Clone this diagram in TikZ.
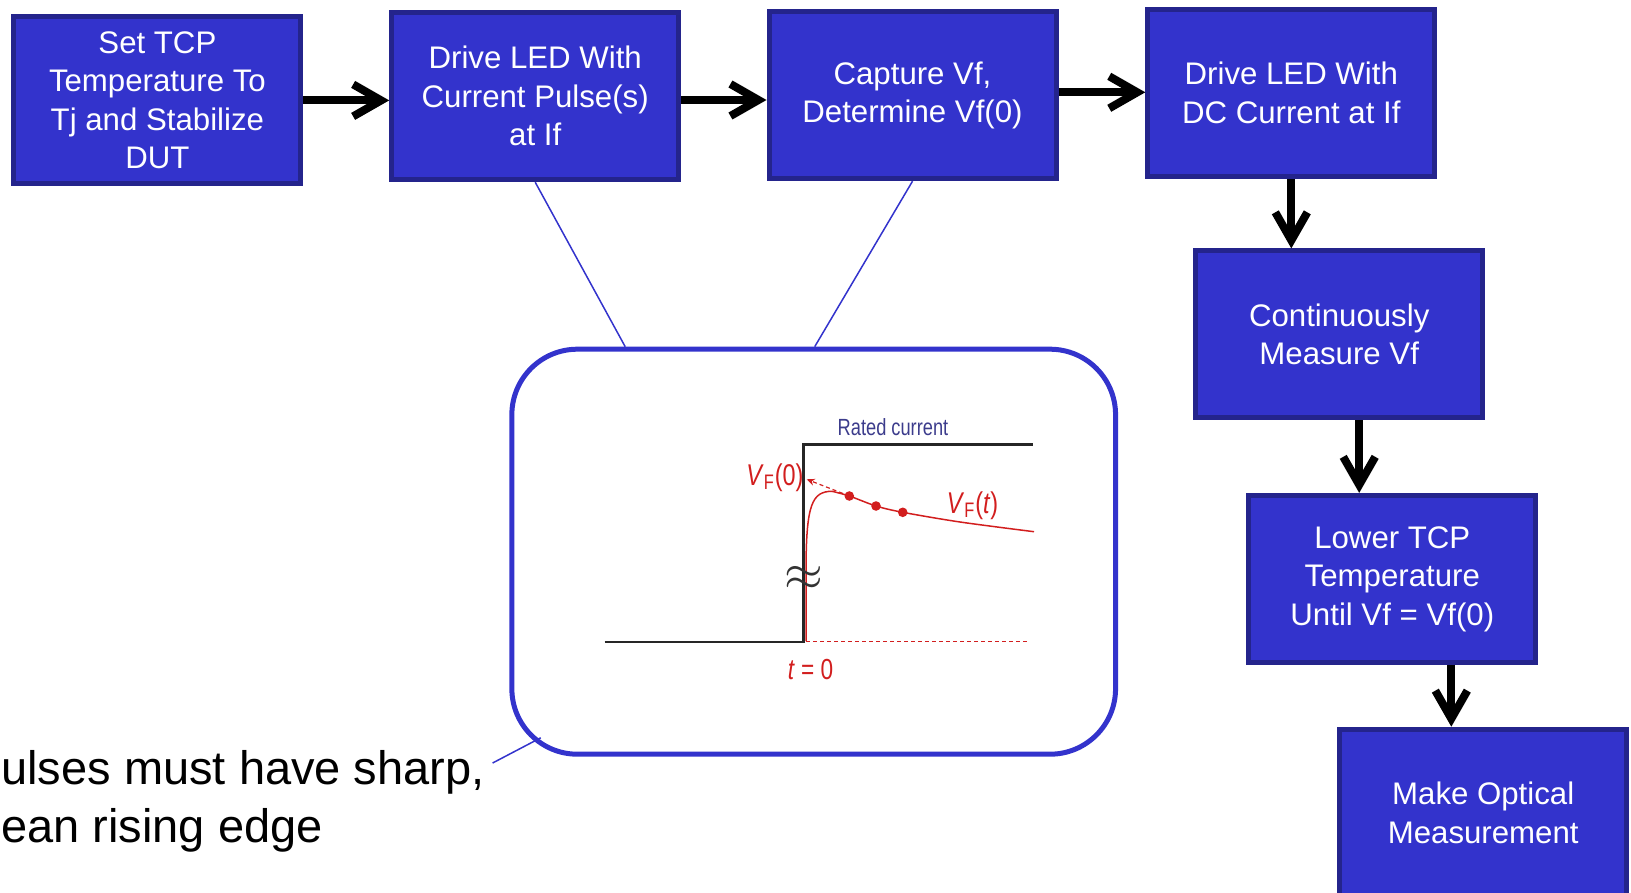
\documentclass[tikz,border=0pt]{standalone}
\usepackage{fontspec}
\setmainfont{Liberation Sans}
\newfontfamily\narrowfont[FakeStretch=0.78]{Liberation Sans}
\usetikzlibrary{arrows.meta, positioning}
\usepackage{xcolor}
\definecolor{boxfill}{RGB}{51,51,204}
\definecolor{boxedge}{RGB}{36,36,140}
\definecolor{insetblue}{RGB}{51,51,204}
\definecolor{curvered}{RGB}{210,30,30}
\definecolor{ratedblue}{RGB}{60,60,140}

\tikzset{
  stepbox/.style={draw=boxedge, fill=boxfill, line width=2.5pt, minimum width=143.5pt,
    minimum height=83.5pt, inner sep=0pt, text=white, align=center,
    font=\fontsize{15.6}{19.25}\selectfont},
  flow/.style={line width=4pt, -{Straight Barb[length=14pt, width=16pt]}},
  callout/.style={draw=insetblue, line width=0.75pt},
  insetbox/.style={draw=insetblue, line width=2.5pt, rounded corners=32.75pt,
    minimum width=301.85pt, minimum height=202.5pt},
  note/.style={anchor=base west, inner sep=0pt, align=left,
    font=\fontsize{23.5}{29}\selectfont},
  stepline/.style={draw=black!85, line width=1.3pt},
  vfline/.style={draw=curvered, line width=0.75pt},
  chartlabel/.style={inner sep=0pt, anchor=base, text=curvered, font=\narrowfont\fontsize{15}{15}\selectfont},
}

\begin{document}
\begin{tikzpicture}[x=0.5pt, y=-0.5pt]
  \useasboundingbox (0,0) rectangle (1631,893);
  \clip (0,0) rectangle (1631,893);

  \node[stepbox] (b1) at (157.4,100.4) {Set TCP\\Temperature To\\Tj and Stabilize\\DUT};
  \node[stepbox] (b2) at (535.2,96.2) {Drive LED With\\Current Pulse(s)\\at If};
  \node[stepbox] (b3) at (912.5,95.2) {Capture Vf,\\Determine Vf(0)};
  \node[stepbox] (b4) at (1291.3,93.1) {Drive LED With\\DC Current at If};
  \node[stepbox] (b5) at (1339.2,334.4) {Continuously\\Measure Vf};
  \node[stepbox] (b6) at (1392.3,578.9) {Lower TCP\\Temperature\\Until Vf = Vf(0)};
  \node[stepbox] (b7) at (1483.2,812.7) {Make Optical\\Measurement};

  \foreach \a/\b/\s in {b1/b2/0, b2/b3/-1.9, b3/b4/1.45} {
    \draw[flow] ([yshift=\s pt]\a.east) -- ([yshift=\s pt]\a.east -| \b.west);
  }
  \foreach \a/\b/\s in {b4/b5/0, b5/b6/10, b6/b7/29.5} {
    \draw[flow] ([xshift=\s pt]\a.south) -- ([xshift=\s pt]\a.south |- \b.north);
  }

  \node[insetbox] (inset) at (813.7,551.7) {};
  \coordinate (c2) at (625.2,346.7);
  \coordinate (c3) at (814.7,346.7);
  \draw[callout] (b2.south) -- (c2);
  \draw[callout] (b3.south) -- (c3);

  \node[note] (note) at (1,842.5) {ulses must have sharp,\\ean rising edge};
  \coordinate (notetip) at (492.6,763);
  \coordinate (insettip) at (540.7,737.8);
  \draw[callout] (notetip) -- (insettip);

  % pulse and forward voltage response
  \draw[stepline] (604.7,642) -- (803.4,642) -- (803.4,444.7) -- (1033,444.7);
  \draw[vfline, line width=0.6pt, dash pattern=on 2pt off 1.5pt] (806,641.3) -- (1028,641.3);
  \draw[vfline] (806,641) -- (806,565) .. controls (806.5,505) and (812,491.3) .. (832,491.3);
  \draw[vfline] plot[smooth] coordinates {(832,491.3) (849.3,496) (876,506) (902.7,512.3) (960,522) (1034,531.7)};
  \foreach \x/\y in {849.3/496, 876/506, 902.7/512.3} {
    \fill[curvered] (\x,\y) circle (2.4pt);
  }
  \draw[vfline, line width=0.6pt, dash pattern=on 2pt off 1.5pt, -{Stealth[length=4pt, width=3.5pt]}] (849.3,496) -- (806.7,479.3);
  \node[text=black!80] (brk) at (804,578) {\fontsize{25}{25}\selectfont$\approx$};

  \node[chartlabel, text=ratedblue, font=\narrowfont\fontsize{11.7}{11.7}\selectfont] (rated) at (893,435) {Rated current};
  \node[chartlabel] (vf0) at (775,485) {\textit{V}\textsubscript{F}(0)};
  \node[chartlabel] (vft) at (972.5,513.3) {\textit{V}\textsubscript{F}(\textit{t})};
  \node[chartlabel, font=\narrowfont\fontsize{14.5}{14.5}\selectfont] (tzero) at (810.5,679.6) {\textit{t} = 0};
\end{tikzpicture}
\end{document}
